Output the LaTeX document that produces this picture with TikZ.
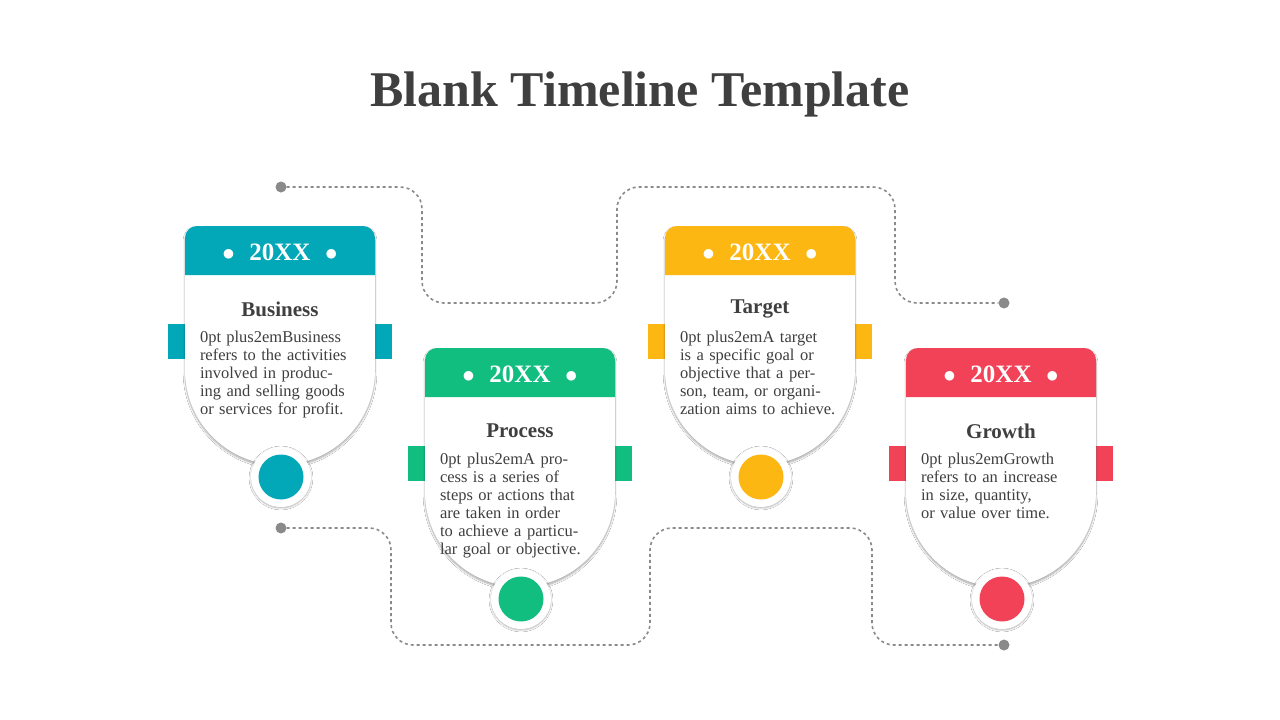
\documentclass[tikz,border=0pt]{standalone}
\usepackage{fontspec}
\setmainfont{Liberation Serif}
\usetikzlibrary{shadows.blur}
\definecolor{cA}{HTML}{02A8B8}
\definecolor{cB}{HTML}{12BD80}
\definecolor{cC}{HTML}{FDB713}
\definecolor{cD}{HTML}{F24257}
\definecolor{tx}{HTML}{3F3F3F}
\definecolor{ln}{HTML}{8A8A8A}
\tikzset{
 dots/.style={ln,line width=1.6pt,dash pattern=on 3pt off 3pt,rounded corners=22},
 enddot/.style={circle,fill=ln,inner sep=0,minimum size=11},
 hdr/.style={text=white,font=\fontsize{25}{25}\selectfont\bfseries},
 ttl/.style={text=tx,font=\fontsize{21}{21}\selectfont\bfseries},
 bdy/.style={text=tx,align=center,text width=160,font=\fontsize{16.5}{18}\selectfont\hyphenpenalty=10000},
}
\newcommand{\mycard}[6]{% x0, top, color, name, title, body
 \fill[#3] (#1-17,#2+98) rectangle (#1+207,#2+133);
 \fill[white,blur shadow={shadow blur steps=8,shadow xshift=0pt,shadow yshift=-2pt,shadow opacity=35}]
   (#1,#2+144) -- (#1,#2+12) arc[start angle=180,end angle=270,radius=12] -- (#1+178,#2) arc[start angle=270,end angle=360,radius=12] -- (#1+190,#2+144) arc[start angle=0,end angle=180,x radius=95,y radius=95] -- cycle;
 \fill[#3] (#1,#2+49) -- (#1,#2+12) arc[start angle=180,end angle=270,radius=12] -- (#1+178,#2) arc[start angle=270,end angle=360,radius=12] -- (#1+190,#2+49) -- cycle;
 \node[hdr] (#4h) at (#1+95,#2+26) {$\bullet$\,\, 20XX \,\,$\bullet$};
 \node[ttl] (#4t) at (#1+95,#2+83) {#5};
 \node[bdy,anchor=north] (#4b) at (#1+95,#2+102) {#6};
 \node[circle,fill=white,minimum size=60,blur shadow={shadow blur steps=6,shadow xshift=0pt,shadow yshift=-1pt,shadow opacity=30}] (#4c) at (#1+96,#2+251) {};
 \node[circle,fill=#3,minimum size=45] (#4i) at (#4c) {};
}
\begin{document}
\begin{tikzpicture}[x=1pt,y=-1pt]
\useasboundingbox[fill=white] (0,0) rectangle (1280,720);
\node[text=tx,font=\fontsize{50}{50}\selectfont\bfseries] (title) at (640,94) {Blank Timeline Template};
\node[enddot] (s1) at (281,187) {};
\node[enddot] (e1) at (1004,303) {};
\node[enddot] (s2) at (281,528) {};
\node[enddot] (e2) at (1004,645) {};
\draw[dots] (s1) -- (422,187) -- (422,303) -- (617,303) -- (617,187) -- (895,187) -- (895,303) -- (e1);
\draw[dots] (s2) -- (391,528) -- (391,645) -- (650,645) -- (650,528) -- (872,528) -- (872,645) -- (e2);
\mycard{185}{226}{cA}{a}{Business}{Business refers to the activities involved in producing and selling goods or services for profit.}
\mycard{425}{348}{cB}{b}{Process}{A process is a series of steps or actions that are taken in order to achieve a particular goal or objective.}
\mycard{665}{226}{cC}{c}{Target}{A target is a specific goal or objective that a person, team, or organization aims to achieve.}
\mycard{906}{348}{cD}{d}{Growth}{Growth refers to an increase in size, quantity, or value over time.}
\end{tikzpicture}
\end{document}
